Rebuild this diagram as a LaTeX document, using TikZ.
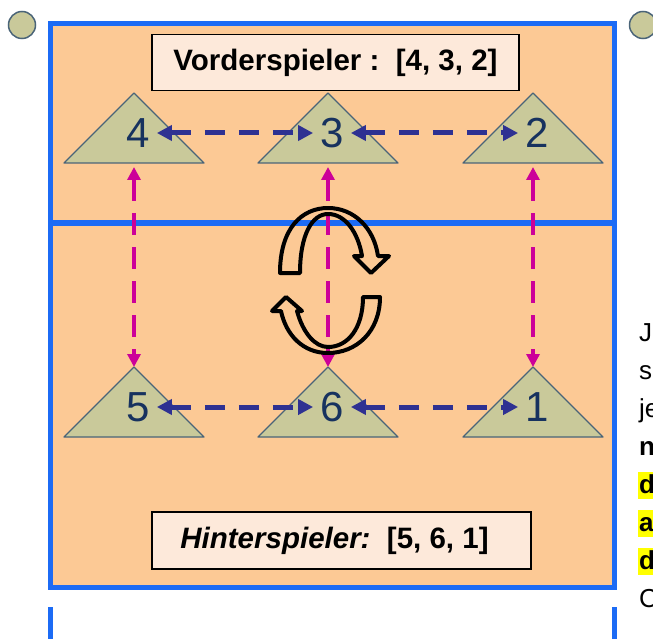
\documentclass[tikz,border=0pt]{standalone}
\usepackage{fontspec}
\setmainfont{Liberation Sans}
\usetikzlibrary{arrows.meta}
\definecolor{court}{HTML}{FCC995}
\definecolor{courtline}{HTML}{1C6BF5}
\definecolor{player}{HTML}{C9C99A}
\definecolor{playerline}{HTML}{4A6478}
\definecolor{numcol}{HTML}{17325F}
\definecolor{swapcol}{HTML}{2E3192}
\definecolor{rotcol}{HTML}{CC0099}
\definecolor{labelbg}{HTML}{FDE9DA}
\definecolor{hilite}{HTML}{FFFF00}
\begin{document}
\begin{tikzpicture}[x=1pt,y=-1pt]
  \tikzstyle{line}=[courtline,line width=5pt]
  \tikzstyle{ring}=[circle,draw=playerline,fill=player,line width=1.5pt,minimum size=27pt,inner sep=0pt]
  \tikzstyle{labelbox}=[draw,line width=1.5pt,fill=labelbg,font=\bfseries\fontsize{29.5}{31}\selectfont]
  \tikzstyle{num}=[text=numcol,font=\fontsize{42}{42}\selectfont,inner sep=7pt]
  \tikzstyle{swap}=[swapcol,line width=5pt,dash pattern=on 20pt off 14pt,
    {Triangle[width=15pt,length=15pt]}-{Triangle[width=15pt,length=15pt]}]
  \tikzstyle{rot}=[rotcol,line width=4.5pt,dash pattern=on 22pt off 12pt,
    {Triangle[width=13pt,length=13pt]}-{Triangle[width=13pt,length=13pt]}]
  \tikzstyle{turn}=[line width=4pt,line join=round]
  \tikzstyle{side}=[font=\fontsize{26}{26}\selectfont,anchor=base west,inner sep=1pt]
  \tikzstyle{hl}=[side,fill=hilite,font=\bfseries\fontsize{26}{26}\selectfont,text height=20pt,text depth=5pt]
  \useasboundingbox (0,0) rectangle (653,639);
  \clip (0,0) rectangle (653,639);
  % court
  \draw[line,fill=court] (50.5,23.5) rectangle (614,587);
  \draw[line] (50.5,223) -- (614,223);
  \draw[line] (50.5,607) -- (50.5,645) (614,607) -- (614,645);
  \node[ring] (ringl) at (22,25) {};
  \node[ring] (ringr) at (643,25) {};
  % players
  \foreach \n/\x/\y in {4/134/93, 3/328/93, 2/533/93, 5/134/367, 6/328/367, 1/533/367} {
    \draw[playerline,fill=player,line width=1.2pt,line join=round]
      (\x,\y) -- ++(70,70) -- ++(-140,0) -- cycle;
    \coordinate (apex\n) at (\x,\y);
    \coordinate (base\n) at (\x,\y+70);
    \node[num] (n\n) at (\x+4,\y+40) {\n};
  }
  \node[labelbox,minimum width=367pt,minimum height=56pt] (front) at (335.5,62.5) {Vorderspieler :\ \ [4, 3, 2]};
  \node[labelbox,minimum width=379pt,minimum height=57pt] (back) at (341.5,540.5) {\textit{Hinterspieler:}\ \ [5, 6, 1]\hspace*{14pt}};
  % swaps
  \draw[swap] (n4) -- (n3);
  \draw[swap] (n3) -- (n2);
  \draw[swap] (n5) -- (n6);
  \draw[swap] (n6) -- (n1);
  \draw[rot,shorten <=4pt] (base4) -- (apex5);
  \draw[rot,shorten <=4pt] (base3) -- (apex6);
  \draw[rot,shorten <=4pt] (base2) -- (apex1);
  % rotation sign
  \draw[turn] (280,273) .. controls (280,228) and (302,208) .. (328,208)
    .. controls (354,208) and (374,228) .. (378,256) -- (389,256) -- (371,273)
    -- (354,256) -- (362,256) .. controls (358,232) and (345,214) .. (328,214)
    .. controls (312,214) and (300,235) .. (300,273) -- cycle;
  \draw[turn] (363,297) -- (380,297) .. controls (380,332) and (356,353) .. (328,353)
    .. controls (303,353) and (286,335) .. (281,311) -- (272,311) -- (286,297)
    -- (302,311) -- (297,311) .. controls (303,333) and (315,347) .. (328,347)
    .. controls (348,347) and (363,328) .. (363,297) -- cycle;
  % text beside
  \node[side] (t1) at (638,341) {J};
  \node[side] (t2) at (638,379) {s};
  \node[side] (t3) at (638,417) {je};
  \node[side,font=\bfseries\fontsize{26}{26}\selectfont] (t4) at (638,455) {n};
  \node[hl] (t5) at (638,493) {d};
  \node[hl] (t6) at (638,531) {a};
  \node[hl] (t7) at (638,569) {d};
  \node[side] (t8) at (638,607) {C};
\end{tikzpicture}
\end{document}
